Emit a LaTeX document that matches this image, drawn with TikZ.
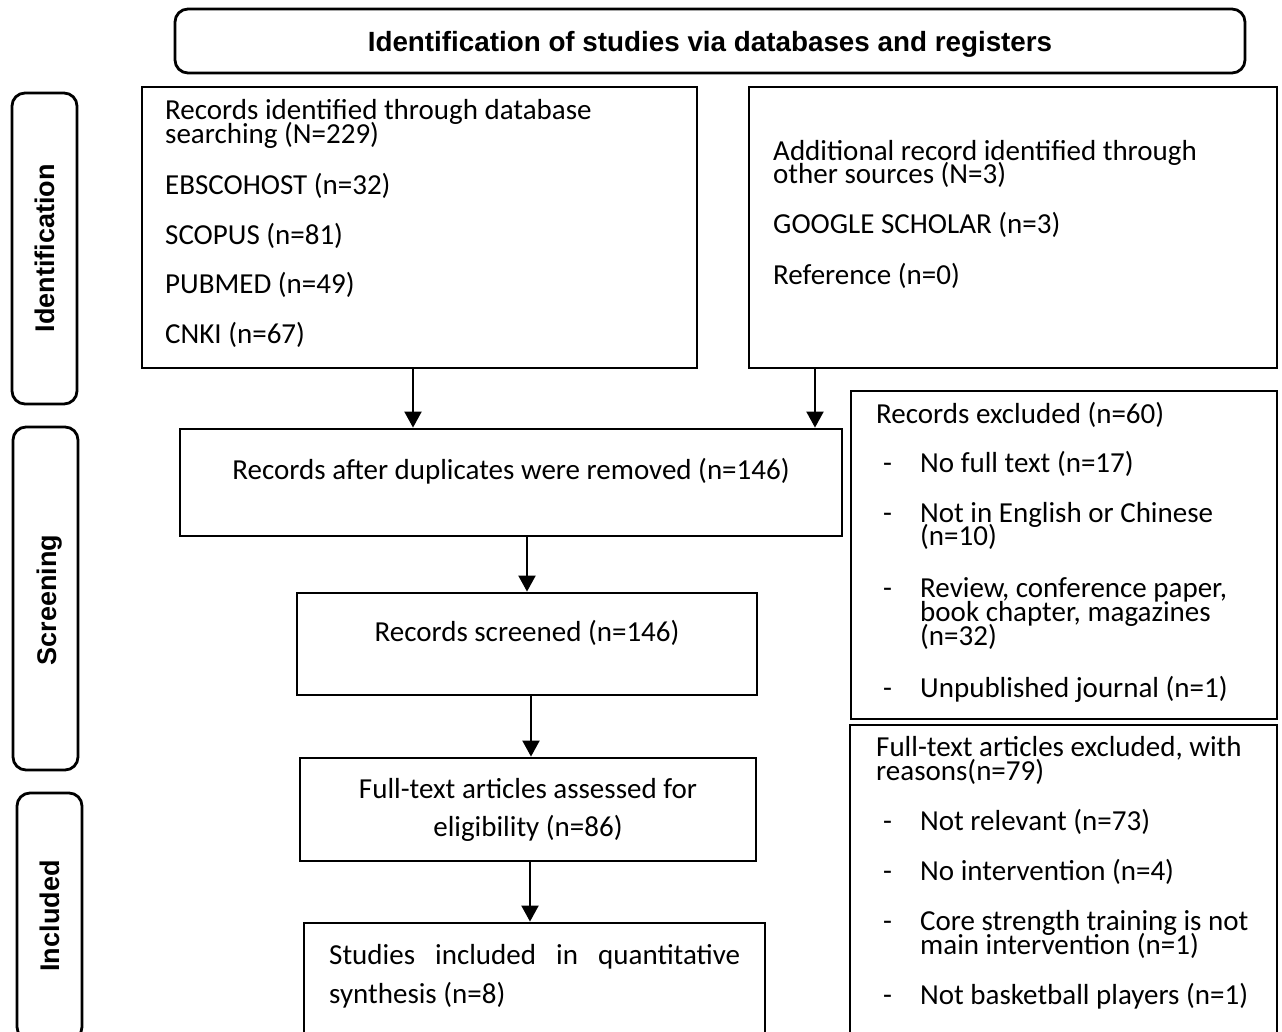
\documentclass[tikz,border=0pt]{standalone}
\usepackage{fontspec}
\setmainfont{Carlito}
\newfontfamily\arialfont{Liberation Sans}
\usetikzlibrary{arrows.meta}
\begin{document}
\begin{tikzpicture}[x=1pt,y=-1pt,
  box/.style={draw, line width=2.8pt, rectangle, inner sep=0pt},
  rbox/.style={box, rounded corners=13pt},
  txt/.style={inner sep=0pt, anchor=base west, font=\fontsize{29}{29}\selectfont},
  ctxt/.style={inner sep=0pt, anchor=base, font=\fontsize{29}{29}\selectfont},
  hdr/.style={inner sep=0pt, anchor=base, font=\arialfont\bfseries\fontsize{27.8}{27.8}\selectfont},
  side/.style={inner sep=0pt, rotate=90, anchor=center, text height=19.5pt, text depth=0pt, font=\arialfont\bfseries\fontsize{27}{27}\selectfont},
  arr/.style={line width=2pt, -{Triangle[length=16pt,width=17pt]}},
]
\useasboundingbox (0,0) rectangle (1282,1032);
\clip (0,0) rectangle (1282,1032);
\fill[white] (0,0) rectangle (1282,1032);

% header
\node[rbox, minimum width=1070pt, minimum height=64pt] (head) at (710,41) {};
\node[hdr] (headt) at (710,52) {Identification of studies via databases and registers};

% side labels
\node[rbox, minimum width=65pt, minimum height=311pt] (s1) at (44.5,248.5) {};
\node[side] (s1t) at (45,248.5) {Identification};
\node[rbox, minimum width=65pt, minimum height=343pt] (s2) at (45.5,598.5) {};
\node[side] (s2t) at (47,600) {Screening};
\node[rbox, minimum width=65pt, minimum height=247pt] (s3) at (49.5,916.5) {};
\node[side] (s3t) at (50,916) {Included};

% boxes
\node[box, minimum width=555pt, minimum height=281pt] (A) at (419.5,227.5) {};
\node[box, minimum width=528pt, minimum height=281pt] (B) at (1013,227.5) {};
\node[box, minimum width=662pt, minimum height=107pt] (C) at (511,482.5) {};
\node[box, minimum width=426pt, minimum height=328pt] (D) at (1064,555) {};
\node[box, minimum width=460pt, minimum height=102pt] (E) at (527,644) {};
\node[box, minimum width=456pt, minimum height=103pt] (F) at (528,809.5) {};
\node[box, minimum width=427pt, minimum height=335pt] (G) at (1063.5,892.5) {};
\node[box, minimum width=461pt, minimum height=137pt] (H) at (534.5,991.5) {};

% box A text
\node[txt] (a1) at (165,120) {Records identified through database};
\node[txt] (a2) at (165,144) {searching (N=229)};
\node[txt] (a3) at (165,195) {EBSCOHOST (n=32)};
\node[txt] (a4) at (165,245) {SCOPUS (n=81)};
\node[txt] (a5) at (165,294) {PUBMED (n=49)};
\node[txt] (a6) at (165,343) {CNKI (n=67)};

% box B text
\node[txt] (b1) at (773,161) {Additional record identified through};
\node[txt] (b2) at (773,184) {other sources (N=3)};
\node[txt] (b3) at (773,234) {GOOGLE SCHOLAR (n=3)};
\node[txt] (b4) at (773,284) {Reference (n=0)};

% box C, E, F, H text
\node[ctxt] (c1) at (511,479) {Records after duplicates were removed (n=146)};
\node[ctxt] (e1) at (527,641) {Records screened (n=146)};
\node[ctxt] (f1) at (528,798) {Full-text articles assessed for};
\node[ctxt] (f2) at (528,836) {eligibility (n=86)};
\node[txt] (h1) at (329,964) {\makebox[411pt][s]{Studies included in quantitative}};
\node[txt] (h2) at (329,1003) {synthesis (n=8)};

% box D text
\node[txt] (d0) at (876,423) {Records excluded (n=60)};
\node[txt] (dd1) at (883,472) {-};
\node[txt] (d1) at (920,472) {No full text (n=17)};
\node[txt] (dd2) at (883,522) {-};
\node[txt] (d2) at (920,522) {Not in English or Chinese};
\node[txt] (d2b) at (920,545) {(n=10)};
\node[txt] (dd3) at (883,597) {-};
\node[txt] (d3) at (920,597) {Review, conference paper,};
\node[txt] (d3b) at (920,621) {book chapter, magazines};
\node[txt] (d3c) at (920,645) {(n=32)};
\node[txt] (dd4) at (883,697) {-};
\node[txt] (d4) at (920,697) {Unpublished journal (n=1)};

% box G text
\node[txt] (g0) at (876,756) {Full-text articles excluded, with};
\node[txt] (g0b) at (876,780) {reasons(n=79)};
\node[txt] (gg1) at (883,830) {-};
\node[txt] (g1) at (920,830) {Not relevant (n=73)};
\node[txt] (gg2) at (883,880) {-};
\node[txt] (g2) at (920,880) {No intervention (n=4)};
\node[txt] (gg3) at (883,930) {-};
\node[txt] (g3) at (920,930) {Core strength training is not};
\node[txt] (g3b) at (920,954) {main intervention (n=1)};
\node[txt] (gg4) at (883,1004) {-};
\node[txt] (g4) at (920,1004) {Not basketball players (n=1)};

% arrows
\coordinate (xa) at (413,0);
\coordinate (xb) at (815,0);
\coordinate (xc) at (527,0);
\coordinate (xe) at (531,0);
\coordinate (xf) at (530,0);
\draw[arr] (A.south -| xa) -- (C.north -| xa);
\draw[arr] (B.south -| xb) -- (C.north -| xb);
\draw[arr] (C.south -| xc) -- (E.north -| xc);
\draw[arr] (E.south -| xe) -- (F.north -| xe);
\draw[arr] (F.south -| xf) -- (H.north -| xf);
\end{tikzpicture}
\end{document}
